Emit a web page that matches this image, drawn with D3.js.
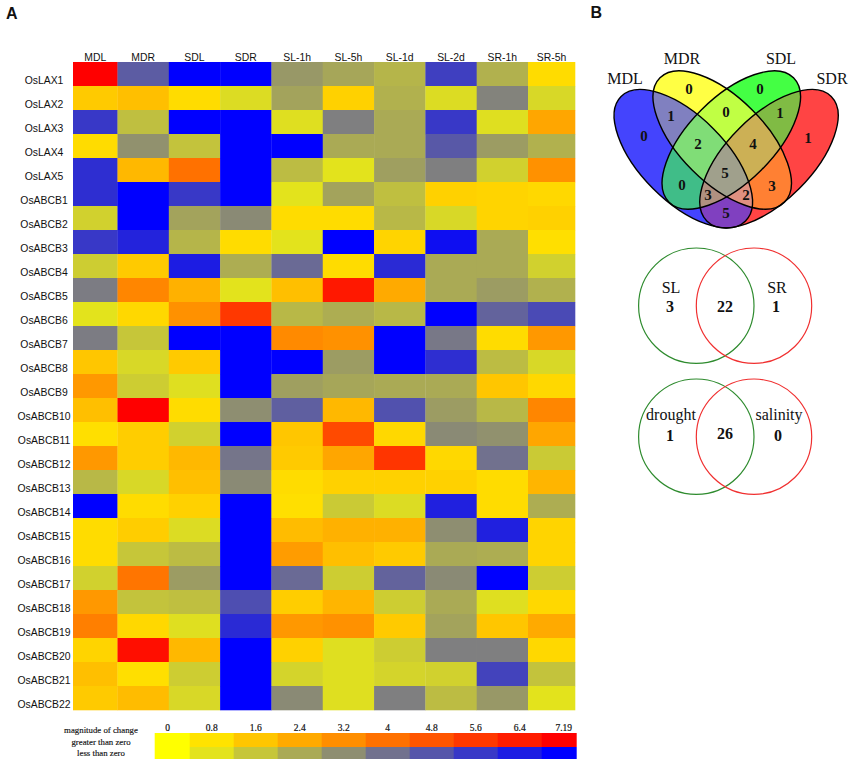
<!DOCTYPE html>
<html>
<head>
<meta charset="utf-8">
<title>OsLAX and OsABCB expression</title>
<script src="https://cdn.jsdelivr.net/npm/d3@7"></script>
<style>
  html, body { margin: 0; background: #fff; }
  svg { display: block; }
  text { fill: #111; }
  .sans { font-family: "Liberation Sans", Arial, sans-serif; }
  .serif { font-family: "Liberation Serif", "Times New Roman", serif; }
</style>
</head>
<body>
<svg id="chart" width="851" height="761"></svg>
<script>
const samples = ['MDL', 'MDR', 'SDL', 'SDR', 'SL-1h', 'SL-5h', 'SL-1d', 'SL-2d', 'SR-1h', 'SR-5h']
const genes = ['OsLAX1', 'OsLAX2', 'OsLAX3', 'OsLAX4', 'OsLAX5', 'OsABCB1', 'OsABCB2', 'OsABCB3', 'OsABCB4',
  'OsABCB5', 'OsABCB6', 'OsABCB7', 'OsABCB8', 'OsABCB9', 'OsABCB10', 'OsABCB11', 'OsABCB12', 'OsABCB13',
  'OsABCB14', 'OsABCB15', 'OsABCB16', 'OsABCB17', 'OsABCB18', 'OsABCB19', 'OsABCB20', 'OsABCB21', 'OsABCB22']

// one row per gene, same order as samples
const changes = [
  [7.19, -4.6, -7.19, -7.19, -2.9, -2.5, -2.1, -5.4, -2.2, 1.0],
  [1.5, 1.8, 1.0, -1.0, -2.6, 1.3, -2.2, -1.0, -3.5, -1.1],
  [-5.6, -1.8, -7.19, -7.19, -0.9, -3.6, -2.4, -5.6, -0.9, 2.5],
  [1.0, -3.1, -1.7, -7.19, -7.19, -2.4, -2.4, -4.7, -2.8, -2.2],
  [-5.9, 2.0, 4.0, -7.19, -1.9, -0.8, -2.7, -3.6, -1.3, 3.1],
  [-5.9, -7.19, -5.6, -7.19, -0.8, -2.6, -1.8, 1.3, 1.2, 1.1],
  [-1.3, -7.19, -2.6, -3.3, 1.0, 1.0, -2.0, -1.1, 1.2, 1.3],
  [-5.6, -6.2, -2.1, 1.0, -0.8, -7.19, 1.2, -6.8, -2.4, 0.9],
  [-1.4, 1.5, -6.4, -2.3, -4.2, 1.0, -6.0, -2.4, -2.4, -1.3],
  [-3.7, 3.4, 2.2, -0.8, 1.8, 6.5, 2.4, -2.4, -2.8, -2.2],
  [-0.8, 1.1, 3.1, 5.6, -2.0, -2.3, -2.0, -7.19, -4.4, -5.1],
  [-3.7, -1.6, -7.19, -7.19, 3.3, 3.1, -7.19, -3.8, 1.0, 2.9],
  [1.6, -1.1, 1.5, -7.19, -7.19, -2.8, -7.19, -5.9, -1.9, -1.1],
  [2.9, -1.4, -0.9, -7.19, -2.7, -2.5, -2.4, -2.4, 1.6, 1.1],
  [1.8, 7.19, 1.0, -3.2, -4.5, 2.0, -4.9, -2.8, -2.0, 3.4],
  [0.9, 1.4, -1.3, -7.19, 1.6, 5.1, 1.1, -3.3, -3.1, 2.5],
  [2.9, 1.4, 2.0, -3.9, 1.5, 2.5, 5.7, 1.1, -4.0, -1.5],
  [-2.0, -1.1, 1.8, -3.3, 1.0, 1.3, 1.3, 1.3, 1.0, 2.1],
  [-7.19, 1.0, 1.3, -7.19, 0.9, -1.5, -1.0, -6.3, 1.0, -2.3],
  [1.0, 1.4, -1.0, -7.19, 1.9, 2.2, 2.2, -3.2, -6.3, 1.2],
  [1.0, -1.6, -1.9, -7.19, 2.8, 1.8, 1.5, -2.4, -2.3, 1.2],
  [-1.3, 3.9, -2.8, -7.19, -4.2, -1.4, -4.4, -3.3, -7.19, -1.4],
  [2.9, -1.7, -1.8, -5.0, 1.4, 2.1, -1.4, -2.4, -0.9, 1.1],
  [3.6, 1.1, -0.9, -6.0, 2.9, 3.1, 1.5, -2.6, 1.6, 2.4],
  [1.2, 6.8, 2.0, -7.19, 1.3, -0.9, -1.4, -3.6, -3.6, 1.1],
  [1.8, 0.9, -1.4, -7.19, -1.2, -0.9, -1.2, -1.3, -5.3, -1.7],
  [1.5, 1.9, -1.1, -7.19, -3.3, -0.9, -3.6, -1.9, -2.9, -0.8]
]

const legendTicks = [0, 0.8, 1.6, 2.4, 3.2, 4, 4.8, 5.6, 6.4, 7.19]
const legendNotes = ['magnitude of change', 'greater than zero', 'less than zero']

// the four-set venn: which ellipses a region sits in, its count, its tint
const vennNames = ['MDL', 'MDR', 'SDL', 'SDR']
const vennSets = [[0], [1], [2], [3], [0, 1], [1, 2], [2, 3], [0, 2], [1, 3], [0, 3],
  [0, 1, 2], [1, 2, 3], [0, 2, 3], [0, 1, 3], [0, 1, 2, 3]]
const vennCounts = [0, 0, 0, 1, 1, 0, 1, 0, 3, 5, 2, 4, 3, 2, 5]
const vennTints = ['#4444fd', '#ffff44', '#44ff44', '#ff4444', '#8080c0', '#c0ff44', '#80bb44', '#40bd88',
  '#ff8033', '#8040c0', '#80dd77', '#ccb055', '#b09080', '#e09080', '#a0a08c']

const slVenn = { names: ['SL', 'SR'], counts: [3, 22, 1] }
const stressVenn = { names: ['drought', 'salinity'], counts: [1, 26, 0] }

const svg = d3.select('#chart')

const pos = d3.scaleLinear().domain([0, 7.19]).range(['#ffff00', '#ff0000'])
const neg = d3.scaleLinear().domain([0, 7.19]).range(['#ffff00', '#0000ff'])
const color = v => v >= 0 ? pos(v) : neg(-v)

// panel letters
svg.append('text').attr('class', 'sans').attr('x', 6).attr('y', 19)
  .attr('font-size', 16).attr('font-weight', 'bold').text('A')
svg.append('text').attr('class', 'sans').attr('x', 590.5).attr('y', 18)
  .attr('font-size', 16).attr('font-weight', 'bold').text('B')

// heat map, first and last columns are narrower than the rest
const x = d3.scaleLinear().domain([0, 1, 9, 10]).range([73, 117.5, 528, 575])
const y = d3.scaleBand().domain(genes).range([62, 710])

const heat = svg.append('g')
const rows = heat.selectAll('g').data(changes).join('g')
rows.selectAll('rect')
  .data((d, i) => d.map((v, j) => ({ v, j, gene: genes[i] })))
  .join('rect')
  .attr('x', d => x(d.j))
  .attr('y', d => y(d.gene))
  .attr('width', d => x(d.j + 1) - x(d.j) + 0.3)
  .attr('height', y.bandwidth() + 0.3)
  .attr('fill', d => color(d.v))

heat.selectAll('text.col').data(samples).join('text')
  .attr('class', 'col sans')
  .attr('x', (d, i) => (x(i) + x(i + 1)) / 2)
  .attr('y', 60.5)
  .attr('text-anchor', 'middle')
  .attr('font-size', 10.4)
  .text(d => d)

heat.selectAll('text.row').data(genes).join('text')
  .attr('class', 'row sans')
  .attr('x', 44)
  .attr('y', d => y(d) + y.bandwidth() / 2 + 9.5)
  .attr('text-anchor', 'middle')
  .attr('font-size', 10.4)
  .text(d => d)

// legend, the end swatches get cut off by the clip
const lx = d3.scaleBand().domain(legendTicks).range([145.7, 585.7])
svg.append('clipPath').attr('id', 'legend-clip').append('rect')
  .attr('x', 154.7).attr('y', 733).attr('width', 422).attr('height', 26)
const legend = svg.append('g')
const swatches = legend.append('g').attr('clip-path', 'url(#legend-clip)')
swatches.selectAll('rect.up').data(legendTicks).join('rect')
  .attr('class', 'up')
  .attr('x', d => lx(d)).attr('y', 733)
  .attr('width', lx.bandwidth() + 0.3).attr('height', 14)
  .attr('fill', d => color(d))
swatches.selectAll('rect.down').data(legendTicks).join('rect')
  .attr('class', 'down')
  .attr('x', d => lx(d)).attr('y', 747)
  .attr('width', lx.bandwidth() + 0.3).attr('height', 12)
  .attr('fill', d => color(-d))
legend.selectAll('text.tick').data(legendTicks).join('text')
  .attr('class', 'tick serif')
  .attr('x', d => lx(d) + lx.bandwidth() / 2)
  .attr('y', 731)
  .attr('text-anchor', 'middle')
  .attr('font-size', 9.5)
  .style('stroke', '#111').style('stroke-width', 0.2)
  .text(d => d)
legend.selectAll('text.note').data(legendNotes).join('text')
  .attr('class', 'note serif')
  .attr('x', 101)
  .attr('y', (d, i) => 733 + i * 11.5)
  .attr('text-anchor', 'middle')
  .attr('font-size', 8.8)
  .style('stroke', '#111').style('stroke-width', 0.15)
  .text(d => d)

// four ellipse venn
const ellipses = [
  { cx: 683.3, cy: 158.7, a: 88, b: 42.5, rot: 45 },
  { cx: 722.2, cy: 140, a: 88, b: 42.5, rot: 45 },
  { cx: 731.3, cy: 140, a: 88, b: 42.5, rot: -45 },
  { cx: 769, cy: 158.7, a: 88, b: 42.5, rot: -45 }
]
const putEllipse = (sel, e) => sel
  .attr('cx', e.cx).attr('cy', e.cy).attr('rx', e.a).attr('ry', e.b)
  .attr('transform', `rotate(${e.rot} ${e.cx} ${e.cy})`)

ellipses.forEach((e, i) => {
  svg.append('clipPath').attr('id', 'clip-' + i).append('ellipse').call(putEllipse, e)
})

// smaller subsets first, bigger overlaps paint over them
const venn = svg.append('g')
vennSets.forEach((set, i) => {
  let g = venn
  set.forEach(s => { g = g.append('g').attr('clip-path', `url(#clip-${s})`) })
  g.append('rect').attr('x', 590).attr('y', 40).attr('width', 261).attr('height', 200)
    .attr('fill', vennTints[i])
})
ellipses.forEach(e => {
  venn.append('ellipse').call(putEllipse, e)
    .attr('fill', 'none').attr('stroke', '#000').attr('stroke-width', 1.4)
})

const vennNamePos = [[625, 84], [682, 64], [781, 64], [832, 84]]
venn.selectAll('text.name').data(vennNames).join('text')
  .attr('class', 'name serif')
  .attr('x', (d, i) => vennNamePos[i][0])
  .attr('y', (d, i) => vennNamePos[i][1])
  .attr('text-anchor', 'middle')
  .attr('font-size', 16)
  .text(d => d)

const vennCountPos = [[644, 136], [689, 89], [760, 89], [808, 138], [671, 116], [726, 112], [780, 113],
  [682, 185], [772, 186], [726, 213], [698, 144], [753, 144], [708, 195], [746, 195], [725, 173]]
venn.selectAll('text.count').data(vennCounts).join('text')
  .attr('class', 'count serif')
  .attr('x', (d, i) => vennCountPos[i][0])
  .attr('y', (d, i) => vennCountPos[i][1])
  .attr('dy', '0.34em')
  .attr('text-anchor', 'middle')
  .attr('font-size', 15)
  .attr('font-weight', 'bold')
  .text(d => d)

// two circle venns
function twoCircles (data, cy, nameY, countY, midY, nameX) {
  const g = svg.append('g')
  g.append('circle').attr('cx', 696.3).attr('cy', cy).attr('r', 57.7)
    .attr('fill', 'none').attr('stroke', '#2e8b2e').attr('stroke-width', 1.2)
  g.append('circle').attr('cx', 754).attr('cy', cy).attr('r', 57.7)
    .attr('fill', 'none').attr('stroke', '#f03030').attr('stroke-width', 1.2)
  g.selectAll('text.name').data(data.names).join('text')
    .attr('class', 'name serif')
    .attr('x', (d, i) => nameX[i])
    .attr('y', nameY)
    .attr('text-anchor', 'middle')
    .attr('font-size', 16)
    .text(d => d)
  g.selectAll('text.count').data(data.counts).join('text')
    .attr('class', 'count serif')
    .attr('x', (d, i) => [nameX[0] - 1, 725, nameX[1] - 1][i])
    .attr('y', (d, i) => i === 1 ? midY : countY)
    .attr('text-anchor', 'middle')
    .attr('font-size', 16)
    .attr('font-weight', 'bold')
    .text(d => d)
}
twoCircles(slVenn, 305.7, 293, 312, 312, [671, 777])
twoCircles(stressVenn, 436.7, 420, 441, 439, [671, 779])
</script>
</body>
</html>
